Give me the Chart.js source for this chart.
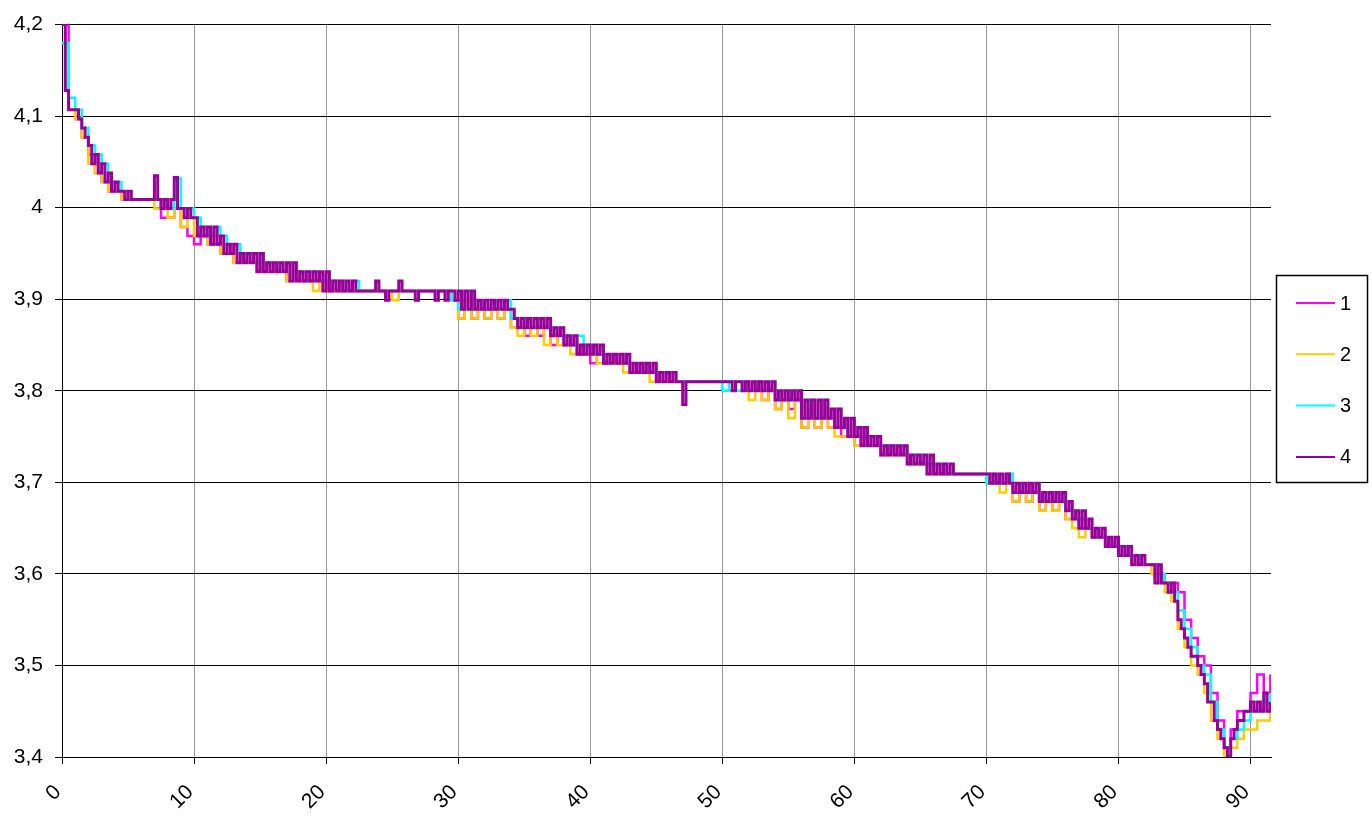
<!DOCTYPE html>
<html>
<head>
<meta charset="utf-8">
<title>Discharge curves</title>
<script src="https://cdn.jsdelivr.net/npm/chart.js@4.4.1/dist/chart.umd.min.js"></script>
<style>
  body { margin: 0; background: #fff; }
  #wrap { width: 1372px; height: 822px; }
  canvas { display: block; }
</style>
</head>
<body>
<div id="wrap"><canvas id="mychart" width="1372" height="822"></canvas></div>
<script>
// series names (legend)
const seriesNames = ['1', '2', '3', '4'];
const seriesColors = ['#ff00ff', '#ffcc00', '#00ffff', '#990099'];

// x axis ticks 0..90, y axis ticks 3,4..4,2
const xTicks = [0, 10, 20, 30, 40, 50, 60, 70, 80, 90];
const yTicks = [3.4, 3.5, 3.6, 3.7, 3.8, 3.9, 4.0, 4.1, 4.2];

// readings in mV, series 1-3 every 0.5, series 4 every 0.25 (x from 0)
const step123 = 0.5;
const step4 = 0.25;

const s1 = [
  4200,4107,4097,4077,4058,4038,4028,4018, // 0
  4018,4009,4009,4009,4009,4009,4009,3989, // 4
  3989,3999,3979,3969,3960,3969,3960,3960, // 8
  3950,3950,3940,3950,3940,3940,3930,3940, // 12
  3930,3930,3920,3930,3920,3920,3920,3920, // 16
  3909,3920,3909,3909,3909,3909,3909,3909, // 20
  3909,3909,3909,3909,3909,3909,3909,3909, // 24
  3909,3909,3909,3899,3879,3899,3879,3889, // 28
  3879,3889,3879,3889,3869,3869,3860,3869, // 32
  3860,3869,3850,3860,3850,3850,3840,3850, // 36
  3830,3840,3830,3840,3830,3830,3820,3830, // 40
  3820,3820,3810,3810,3810,3810,3810,3810, // 44
  3810,3810,3810,3810,3810,3810,3810,3810, // 48
  3800,3810,3790,3800,3780,3790,3780,3790, // 52
  3760,3780,3760,3780,3760,3760,3750,3750, // 56
  3740,3750,3740,3740,3730,3740,3730,3730, // 60
  3720,3720,3720,3720,3709,3709,3709,3709, // 64
  3709,3709,3709,3709,3709,3699,3699,3709, // 68
  3679,3689,3679,3689,3669,3679,3669,3679, // 72
  3660,3660,3650,3650,3640,3640,3630,3630, // 76
  3620,3620,3610,3610,3610,3610,3600,3590, // 80
  3590,3580,3550,3530,3510,3500,3470,3440, // 84
  3410,3430,3450,3450,3470,3490,3470,3490  // 88
];

const s2 = [
  4180,4107,4097,4077,4048,4038,4028,4018, // 0
  4018,4009,4009,4009,4009,4009,3999,4009, // 4
  3989,3999,3979,3989,3969,3979,3960,3969, // 8
  3950,3960,3940,3950,3940,3940,3930,3940, // 12
  3930,3930,3920,3930,3920,3920,3909,3920, // 16
  3909,3920,3909,3909,3909,3909,3909,3909, // 20
  3909,3909,3899,3909,3909,3909,3909,3909, // 24
  3909,3909,3909,3899,3879,3899,3879,3889, // 28
  3879,3889,3879,3889,3869,3860,3869,3860, // 32
  3869,3850,3860,3850,3850,3840,3850,3840, // 36
  3840,3830,3840,3830,3830,3820,3830,3820, // 40
  3820,3810,3810,3810,3810,3810,3810,3810, // 44
  3810,3810,3810,3810,3810,3810,3810,3800, // 48
  3790,3810,3790,3800,3780,3790,3770,3800, // 52
  3760,3780,3760,3780,3760,3750,3750,3750, // 56
  3740,3740,3740,3740,3730,3730,3730,3730, // 60
  3720,3720,3720,3709,3709,3709,3709,3709, // 64
  3709,3709,3709,3709,3699,3709,3689,3709, // 68
  3679,3699,3679,3689,3669,3679,3669,3679, // 72
  3660,3650,3640,3650,3640,3640,3630,3630, // 76
  3620,3620,3610,3610,3610,3600,3590,3580, // 80
  3570,3540,3520,3500,3490,3470,3440,3420, // 84
  3400,3410,3420,3430,3430,3440,3440,3450  // 88
];

const s3 = [
  4180,4120,4107,4087,4068,4058,4048,4028, // 0
  4028,4018,4009,4009,4009,4009,4009,4009, // 4
  3999,4032,3999,3999,3989,3979,3969,3979, // 8
  3969,3960,3960,3950,3950,3950,3940,3940, // 12
  3940,3930,3940,3930,3930,3930,3930,3920, // 16
  3920,3920,3920,3909,3920,3909,3909,3909, // 20
  3909,3909,3909,3909,3909,3909,3909,3909, // 24
  3909,3909,3909,3899,3889,3909,3889,3899, // 28
  3889,3899,3889,3899,3879,3869,3879,3869, // 32
  3879,3869,3869,3860,3860,3850,3860,3850, // 36
  3850,3840,3840,3840,3840,3830,3830,3830, // 40
  3830,3820,3820,3820,3820,3810,3810,3810, // 44
  3810,3810,3810,3810,3800,3810,3800,3810, // 48
  3800,3810,3800,3810,3790,3800,3790,3800, // 52
  3770,3790,3770,3790,3770,3780,3760,3770, // 56
  3750,3760,3750,3750,3740,3740,3740,3740, // 60
  3730,3730,3720,3720,3720,3720,3709,3709, // 64
  3709,3709,3709,3709,3699,3709,3699,3709, // 68
  3689,3699,3689,3699,3679,3689,3679,3689, // 72
  3669,3669,3660,3650,3650,3640,3640,3630, // 76
  3630,3620,3620,3610,3610,3610,3600,3590, // 80
  3580,3560,3540,3520,3500,3490,3460,3430, // 84
  3410,3420,3430,3440,3450,3450,3460,3470  // 88
];

const s4 = [
  4200,4128,4107,4107,4107,4097,4087,4077, // 0
  4068,4048,4058,4038,4048,4028,4038,4018, // 2
  4028,4018,4018,4009,4018,4009,4009,4009, // 4
  4009,4009,4009,4009,4035,4009,3999,4009, // 6
  3999,4009,4033,3999,3999,3989,3999,3989, // 8
  3989,3969,3979,3969,3979,3960,3979,3960, // 10
  3969,3950,3960,3950,3960,3940,3950,3940, // 12
  3950,3940,3950,3930,3950,3930,3940,3930, // 14
  3940,3930,3940,3930,3940,3920,3940,3920, // 16
  3930,3920,3930,3920,3930,3920,3930,3909, // 18
  3930,3909,3920,3909,3920,3909,3920,3909, // 20
  3920,3909,3909,3909,3909,3909,3909,3920, // 22
  3909,3909,3899,3909,3909,3909,3920,3909, // 24
  3909,3909,3909,3899,3909,3909,3909,3909, // 26
  3909,3899,3909,3909,3899,3909,3909,3899, // 28
  3909,3889,3909,3889,3909,3889,3899,3889, // 30
  3899,3889,3899,3889,3899,3889,3899,3889, // 32
  3889,3879,3869,3879,3869,3879,3869,3879, // 34
  3869,3879,3869,3879,3860,3869,3860,3869, // 36
  3850,3860,3850,3860,3840,3850,3840,3850, // 38
  3840,3850,3840,3850,3830,3840,3830,3840, // 40
  3830,3840,3830,3840,3820,3830,3820,3830, // 42
  3820,3830,3820,3830,3810,3820,3810,3820, // 44
  3810,3820,3810,3810,3785,3810,3810,3810, // 46
  3810,3810,3810,3810,3810,3810,3810,3810, // 48
  3810,3810,3810,3800,3810,3810,3800,3810, // 50
  3800,3810,3800,3810,3800,3810,3800,3810, // 52
  3790,3800,3790,3800,3790,3800,3790,3800, // 54
  3770,3790,3770,3790,3770,3790,3770,3790, // 56
  3770,3780,3760,3780,3760,3770,3750,3770, // 58
  3750,3760,3740,3760,3740,3750,3740,3750, // 60
  3730,3740,3730,3740,3730,3740,3730,3740, // 62
  3720,3730,3720,3730,3720,3730,3709,3730, // 64
  3709,3720,3709,3720,3709,3720,3709,3709, // 66
  3709,3709,3709,3709,3709,3709,3709,3709, // 68
  3709,3699,3709,3699,3709,3699,3709,3699, // 70
  3689,3699,3689,3699,3689,3699,3689,3699, // 72
  3679,3689,3679,3689,3679,3689,3679,3689, // 74
  3669,3679,3660,3669,3650,3669,3650,3660, // 76
  3640,3650,3640,3650,3630,3640,3630,3640, // 78
  3620,3630,3620,3630,3610,3620,3610,3620, // 80
  3610,3610,3610,3590,3610,3590,3590,3580, // 82
  3590,3570,3550,3540,3530,3520,3510,3510, // 84
  3500,3490,3480,3460,3460,3440,3430,3420, // 86
  3410,3400,3420,3430,3440,3440,3450,3450, // 88
  3460,3450,3460,3450,3470,3450,3460       // 90
];

// line widths: purple drawn heavier so its bands look solid
const lineWidths = [2.5, 2.5, 2.5, 3];

// turn the mV lists into {x, y} points
function toPoints(list, step) {
  return list.map((v, i) => ({ x: i * step, y: v / 1000 }));
}

const font = 'Liberation Sans, Arial, sans-serif';

// legend drawn as a framed box on the right
const legendBox = {
  id: 'legendBox',
  afterDraw(chart) {
    const c = chart.ctx;
    c.save();
    c.strokeStyle = '#000';
    c.lineWidth = 1.5;
    c.strokeRect(1276.5, 275.5, 91, 207);
    chart.data.datasets.forEach((ds, i) => {
      const y = 303 + i * 51.3;
      c.strokeStyle = ds.borderColor;
      c.lineWidth = 2;
      c.beginPath();
      c.moveTo(1296, y);
      c.lineTo(1335, y);
      c.stroke();
      c.fillStyle = '#000';
      c.font = '20px ' + font;
      c.textBaseline = 'middle';
      c.fillText(ds.label, 1340, y + 1);
    });
    c.restore();
  }
};

const lists = [s1, s2, s3, s4];
const steps = [step123, step123, step123, step4];

const ctx = document.getElementById('mychart');

new Chart(ctx, {
  type: 'line',
  data: {
    datasets: lists.map((list, i) => ({
      label: seriesNames[i],
      data: toPoints(list, steps[i]),
      borderColor: seriesColors[i],
      backgroundColor: seriesColors[i],
      borderWidth: lineWidths[i],
      pointRadius: 0,
      stepped: true,
      fill: false,
      order: 4 - i
    }))
  },
  options: {
    responsive: false,
    animation: false,
    layout: { padding: { top: 22, right: 101, left: 0, bottom: 0 } },
    plugins: {
      legend: { display: false },
      tooltip: { enabled: false }
    },
    scales: {
      x: {
        type: 'linear',
        min: 0,
        max: 91.55,
        afterFit(scale) { scale.height = 65; },
        afterBuildTicks(scale) { scale.ticks = xTicks.map(v => ({ value: v })); },
        border: { color: '#000', width: 1 },
        grid: { color: '#999', tickColor: '#000', tickLength: 7, lineWidth: 1 },
        ticks: {
          includeBounds: false,
          minRotation: 45,
          maxRotation: 45,
          padding: 16,
          labelOffset: -4,
          color: '#000',
          font: { family: font, size: 21 },
          callback: v => String(v)
        }
      },
      y: {
        min: 3.4,
        max: 4.2,
        afterFit(scale) { scale.width = 62; },
        afterBuildTicks(scale) { scale.ticks = yTicks.map(v => ({ value: v })); },
        border: { color: '#000', width: 1 },
        grid: { color: '#000', tickColor: '#000', tickLength: 7, lineWidth: 1 },
        ticks: {
          padding: 12,
          color: '#000',
          font: { family: font, size: 21 },
          callback: v => String(Math.round(v * 10) / 10).replace('.', ',')
        }
      }
    }
  },
  plugins: [legendBox]
});
</script>
</body>
</html>
